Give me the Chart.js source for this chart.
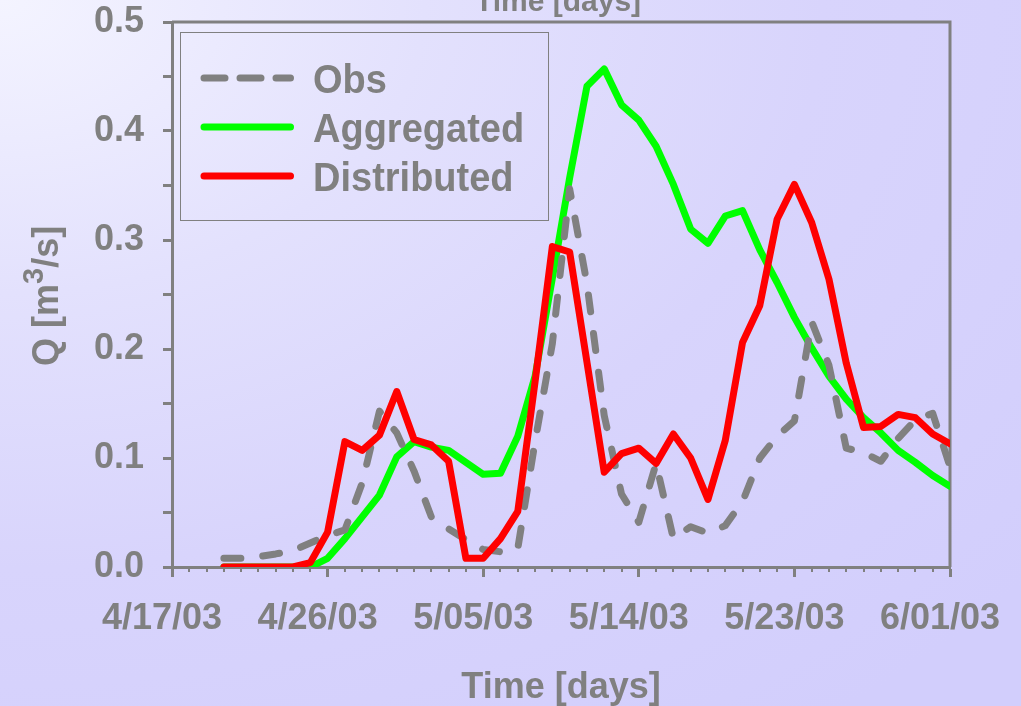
<!DOCTYPE html>
<html>
<head>
<meta charset="utf-8">
<script src="https://cdn.jsdelivr.net/npm/chart.js@4.4.1/dist/chart.umd.min.js"></script>
<style>
  html, body { margin: 0; padding: 0; width: 1021px; height: 706px; overflow: hidden; }
  body {
    background: radial-gradient(ellipse 130% 130% at 0% 0%, #f4f4ff 0%, #e3e1fd 32%, #d8d4fc 62%, #d2cefc 100%);
  }
  #wrap { position: relative; width: 1021px; height: 706px; }
  canvas { display: block; }
</style>
</head>
<body>
<div id="wrap"><canvas id="chart" width="1021" height="706"></canvas></div>
<script>
// Days counted from 4/17/03
const days = [3, 4, 5, 6, 7, 8, 9, 10, 11, 12, 13, 14, 15, 16, 17, 18, 19, 20, 21, 22, 23, 24,
              25, 26, 27, 28, 29, 30, 31, 32, 33, 34, 35, 36, 37, 38, 39, 40, 41, 42, 43, 44, 45];

// Discharge Q [m3/s]
const obs = [0.008, 0.008, 0.0095, 0.012, 0.015, 0.022, 0.029, 0.034,
             0.077, 0.143, 0.123, 0.088, 0.046, 0.035, 0.025, 0.016, 0.014, 0.017,
             0.115, 0.205, 0.347, 0.260, 0.139, 0.067, 0.041, 0.095, 0.026, 0.037,
             0.031, 0.038, 0.060, 0.100, 0.120, 0.134, 0.225, 0.185, 0.109, 0.105,
             0.097, 0.118, 0.135, 0.141, 0.092];

const aggregated = [0, 0, 0, 0, 0, 0,
                    0.008, 0.026, 0.046, 0.066, 0.101, 0.115, 0.110, 0.107, 0.096, 0.085, 0.086, 0.120,
                    0.175, 0.265, 0.357, 0.441, 0.457, 0.424, 0.410, 0.386, 0.351, 0.310,
                    0.297, 0.322, 0.327, 0.291, 0.261, 0.229, 0.201, 0.175, 0.154, 0.137,
                    0.123, 0.107, 0.096, 0.084, 0.074];

const distributed = [0, 0, 0, 0, 0, 0.004, 0.032, 0.115,
                     0.107, 0.121, 0.161, 0.117, 0.112, 0.097, 0.008, 0.008, 0.026, 0.051,
                     0.170, 0.294, 0.289, 0.188, 0.087, 0.104, 0.109, 0.095, 0.122, 0.100,
                     0.062, 0.116, 0.206, 0.240, 0.319, 0.351, 0.316, 0.264, 0.187, 0.128,
                     0.129, 0.140, 0.137, 0.122, 0.113];

const seriesNames = ['Obs', 'Aggregated', 'Distributed'];

// Major ticks on the time axis
const tickDays = [0, 9, 18, 27, 36, 45];
const tickLabels = ['4/17/03', '4/26/03', '5/05/03', '5/14/03', '5/23/03', '6/01/03'];

const GREY = '#808080';
const FONT = "'Liberation Sans', Arial, Helvetica, sans-serif";

const toPoints = (vals) => vals.map((v, i) => ({ x: days[i], y: v }));

// Keep the plot box fixed: no extra room reserved for overhanging labels
const noOverhang = (scale) => {
  scale.paddingTop = 0;
  scale.paddingBottom = 0;
  scale.paddingLeft = 0;
  scale.paddingRight = 0;
};

// Box frame, daily minor ticks and the partly visible heading above
const framePlugin = {
  id: 'frame',
  beforeDatasetsDraw(chart) {
    const { ctx, chartArea: a, scales: { x } } = chart;
    ctx.save();
    ctx.strokeStyle = GREY;
    ctx.lineWidth = 3;
    ctx.lineCap = 'butt';
    ctx.beginPath();
    ctx.moveTo(a.left, a.top);
    ctx.lineTo(a.right, a.top);
    ctx.lineTo(a.right, a.bottom);
    ctx.stroke();

    ctx.lineWidth = 2;
    ctx.beginPath();
    for (let d = x.min; d <= x.max; d++) {
      if (tickDays.includes(d)) continue;
      const px = Math.round(x.getPixelForValue(d));
      ctx.moveTo(px, a.bottom);
      ctx.lineTo(px, a.bottom + 5);
    }
    ctx.stroke();

    ctx.fillStyle = GREY;
    ctx.font = `bold 30px ${FONT}`;
    ctx.textAlign = 'center';
    ctx.textBaseline = 'alphabetic';
    ctx.fillText('Time [days]', 558, 11);
    ctx.restore();
  }
};

// Y title with a raised exponent
const yTitlePlugin = {
  id: 'yTitle',
  afterDraw(chart) {
    const { ctx } = chart;
    ctx.save();
    ctx.translate(58, 366);
    ctx.rotate(-Math.PI / 2);
    ctx.fillStyle = GREY;
    ctx.textAlign = 'left';
    ctx.textBaseline = 'alphabetic';
    ctx.font = `bold 36px ${FONT}`;
    let pos = 0;
    const a = 'Q [m';
    ctx.fillText(a, pos, 0);
    pos += ctx.measureText(a).width;
    ctx.font = `bold 29px ${FONT}`;
    ctx.fillText('3', pos, -15);
    pos += ctx.measureText('3').width;
    ctx.font = `bold 36px ${FONT}`;
    ctx.fillText('/s]', pos, 0);
    ctx.restore();
  }
};

// Legend box inside the plot area
const legendPlugin = {
  id: 'boxLegend',
  afterDatasetsDraw(chart) {
    const { ctx } = chart;
    const box = { x: 180.5, y: 32.5, w: 368, h: 188 };
    const rows = [78, 127, 176];
    ctx.save();
    ctx.strokeStyle = GREY;
    ctx.lineWidth = 1;
    ctx.strokeRect(box.x, box.y, box.w, box.h);
    seriesNames.forEach((name, i) => {
      const ds = chart.data.datasets.find(d => d.label === name);
      const y = rows[i];
      ctx.save();
      ctx.strokeStyle = ds.borderColor;
      ctx.lineWidth = ds.borderWidth;
      ctx.lineCap = 'round';
      ctx.setLineDash(ds.borderDash && ds.borderDash.length ? [21, 15] : []);
      ctx.beginPath();
      ctx.moveTo(204, y);
      ctx.lineTo(290.5, y);
      ctx.stroke();
      ctx.restore();
      ctx.save();
      ctx.fillStyle = GREY;
      ctx.font = `bold 38px ${FONT}`;
      ctx.textAlign = 'left';
      ctx.textBaseline = 'alphabetic';
      ctx.translate(313, y + 14.5);
      ctx.scale(1, 1.06);
      ctx.fillText(name, 0, 0);
      ctx.restore();
    });
    ctx.restore();
  }
};

new Chart(document.getElementById('chart'), {
  type: 'line',
  data: {
    datasets: [
      {
        label: 'Distributed',
        data: toPoints(distributed),
        borderColor: '#ff0000',
        borderWidth: 7,
        order: 1
      },
      {
        label: 'Obs',
        data: toPoints(obs),
        borderColor: GREY,
        borderWidth: 7,
        borderDash: [17, 22],
        order: 2
      },
      {
        label: 'Aggregated',
        data: toPoints(aggregated),
        borderColor: '#00ff00',
        borderWidth: 7,
        order: 3
      }
    ]
  },
  options: {
    responsive: false,
    animation: false,
    devicePixelRatio: 1,
    layout: { padding: { top: 22, right: 71, left: 0, bottom: 0 } },
    elements: {
      point: { radius: 0, hoverRadius: 0 },
      line: { tension: 0, borderCapStyle: 'round', borderJoinStyle: 'round', fill: false }
    },
    plugins: {
      legend: { display: false },
      tooltip: { enabled: false },
      title: { display: false }
    },
    scales: {
      x: {
        type: 'linear',
        min: 0,
        max: 45,
        afterBuildTicks: (scale) => { scale.ticks = tickDays.map(v => ({ value: v })); },
        afterFit: (scale) => { scale.height = 139; noOverhang(scale); },
        ticks: {
          autoSkip: false,
          maxRotation: 0,
          padding: 20,
          labelOffset: -10,
          color: GREY,
          font: { family: FONT, size: 36, weight: 'bold' },
          callback: (value) => tickLabels[tickDays.indexOf(value)]
        },
        grid: {
          display: true,
          drawOnChartArea: false,
          drawTicks: true,
          tickLength: 10,
          tickWidth: 3,
          tickColor: GREY
        },
        border: { display: true, color: GREY, width: 3 },
        title: {
          display: true,
          text: 'Time [days]',
          color: GREY,
          font: { family: FONT, size: 36, weight: 'bold' },
          padding: { top: 0, bottom: -4 }
        }
      },
      y: {
        type: 'linear',
        min: 0,
        max: 0.5,
        afterFit: (scale) => { scale.width = 172; noOverhang(scale); },
        ticks: {
          stepSize: 0.05,
          autoSkip: false,
          padding: 19,
          color: GREY,
          font: { family: FONT, size: 36, weight: 'bold' },
          callback: (value) => (Math.round(value * 100) % 10 === 0 ? value.toFixed(1) : '')
        },
        grid: {
          display: true,
          drawOnChartArea: false,
          drawTicks: true,
          tickLength: 9,
          tickWidth: 3,
          tickColor: GREY
        },
        border: { display: true, color: GREY, width: 3 }
      }
    }
  },
  plugins: [framePlugin, legendPlugin, yTitlePlugin]
});
</script>
</body>
</html>
